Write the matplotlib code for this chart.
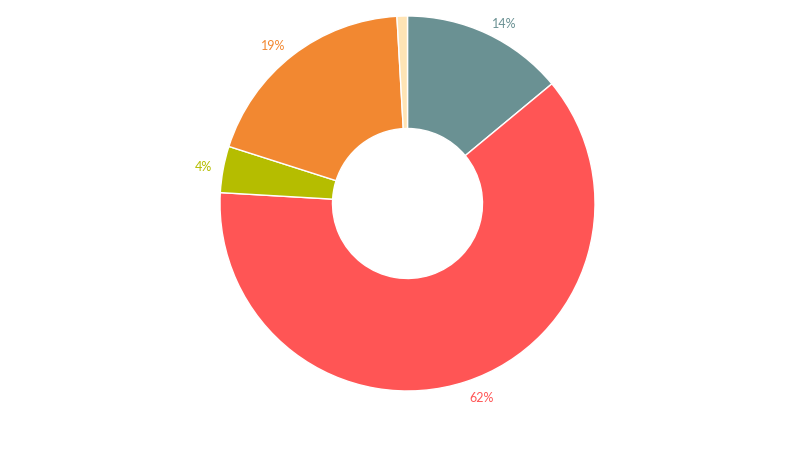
import matplotlib
matplotlib.use('Agg')
import matplotlib.pyplot as plt

# slice values (percent), clockwise from the top
values = [14.0, 62.0, 4.0, 19.2, 0.9]
colors = ['#6a9193', '#ff5555', '#b5bd00', '#f28831', '#ffe4b5']

total = sum(values)
pct_labels = ['%.0f%%' % (v / total * 100) if v / total >= 0.02 else '' for v in values]

fig = plt.figure(figsize=(8, 4.5), dpi=100)
ax = fig.add_axes([0, 0, 1, 1])

wedges, texts = ax.pie(
    values, colors=colors, labels=pct_labels, startangle=90, counterclock=False,
    radius=1.0, labeldistance=1.06,
    wedgeprops=dict(width=0.6, edgecolor='white', linewidth=1),
    textprops=dict(fontfamily='Lato', fontsize=9))

for t, c in zip(texts, colors):
    t.set_color(c)
    # labels under the hole hang below their anchor point
    if t.get_position()[1] < -0.5:
        t.set_va('top')

# place the donut: centre at (407, 203) px, radius ~187 px
ax.set_aspect('auto')
ax.set_xlim(-2.1733, 2.0933)
ax.set_ylim(-1.3147, 1.0853)
ax.axis('off')

fig.savefig('out.png', dpi=100)
